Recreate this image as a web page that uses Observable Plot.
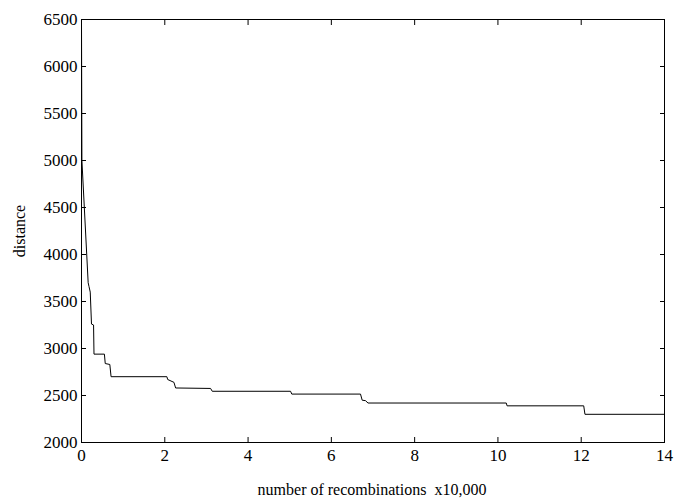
<!DOCTYPE html>
<html>
<head>
<meta charset="utf-8">
<script src="https://cdn.jsdelivr.net/npm/d3@7"></script>
<script src="https://cdn.jsdelivr.net/npm/@observablehq/plot@0.6"></script>
<style>
  body { margin: 0; background: #fff; }
  #chart { width: 676px; height: 502px; position: relative; }
  #chart svg, #chart svg text { font-family: "Liberation Serif", "Times New Roman", "DejaVu Serif", serif !important; }
  #chart svg g[aria-label$="tick label"] { font-size: 17px !important; }
</style>
</head>
<body>
<div id="chart"></div>
<script>
// number of recombinations (x10,000)
const recombinations = [0, 0.01, 0.16, 0.18, 0.21, 0.24, 0.29, 0.30, 0.55, 0.57, 0.68, 0.71, 2.05, 2.07, 2.22, 2.26, 3.10, 3.14, 5.02, 5.05, 6.70, 6.74, 6.82, 6.88, 10.20, 10.22, 12.06, 12.09, 14];
// best distance
const distance = [6500, 5000, 3700, 3660, 3600, 3260, 3250, 2940, 2940, 2840, 2830, 2700, 2700, 2670, 2640, 2580, 2575, 2545, 2545, 2515, 2515, 2450, 2445, 2420, 2420, 2390, 2390, 2300, 2300];
const xTicks = [0, 2, 4, 6, 8, 10, 12, 14];
const yTicks = [2000, 2500, 3000, 3500, 4000, 4500, 5000, 5500, 6000, 6500];

const data = recombinations.map((x, i) => ({x, y: distance[i]}));

const chart = Plot.plot({
  width: 676,
  height: 502,
  marginLeft: 81,
  marginRight: 12,
  marginTop: 19,
  marginBottom: 60,
  style: {fontFamily: '"Liberation Serif", serif', fontSize: "17px", color: "black", background: "white"},
  x: {domain: [0, 14]},
  y: {domain: [2000, 6500]},
  marks: [
    Plot.frame({stroke: "black", strokeWidth: 1}),
    Plot.axisX(xTicks, {anchor: "bottom", tickSize: -5, tickPadding: 11, tickFormat: d3.format("d"), label: null, fontSize: 17}),
    Plot.axisX(xTicks, {anchor: "top", tickSize: -5, tickFormat: () => "", label: null}),
    Plot.axisY(yTicks, {anchor: "left", tickSize: -5, tickPadding: 9, tickFormat: d3.format("d"), label: null, fontSize: 17}),
    Plot.axisY(yTicks, {anchor: "right", tickSize: -5, tickFormat: () => "", label: null}),
    Plot.line(data, {x: "x", y: "y", stroke: "black", strokeWidth: 1})
  ]
});
document.getElementById("chart").appendChild(chart);

const svg = d3.select(chart);
svg.append("text")
  .attr("x", 372).attr("y", 495)
  .attr("text-anchor", "middle")
  .attr("font-size", 16)
  .attr("fill", "black")
  .attr("xml:space", "preserve")
  .style("white-space", "pre")
  .text("number of recombinations  x10,000");
svg.append("text")
  .attr("transform", "translate(25,231) rotate(-90)")
  .attr("text-anchor", "middle")
  .attr("font-size", 16)
  .attr("fill", "black")
  .text("distance");
</script>
</body>
</html>
